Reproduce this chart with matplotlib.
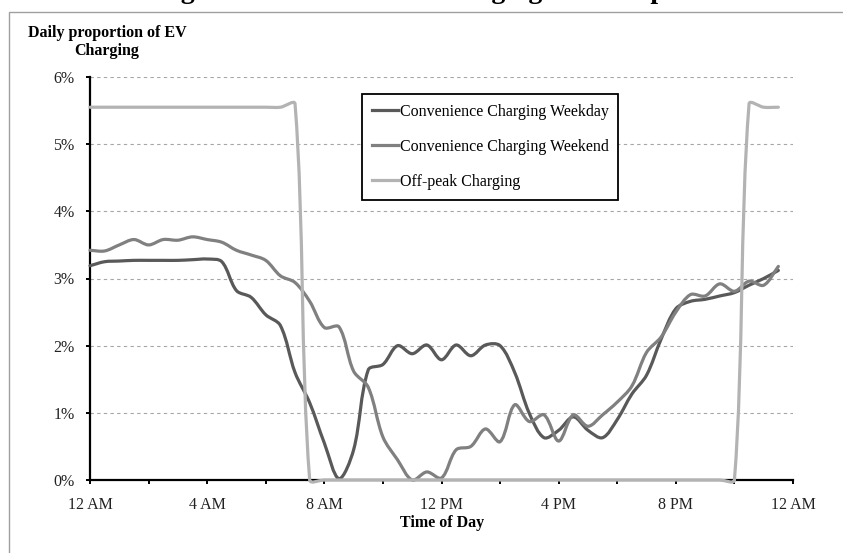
import numpy as np
import matplotlib
matplotlib.use('Agg')
import matplotlib.pyplot as plt
from matplotlib.path import Path
from matplotlib.patches import PathPatch, Rectangle
from matplotlib.lines import Line2D

plt.rcParams['font.family'] = ['Liberation Serif', 'DejaVu Serif']

# === 데이터: 30분 간격 (0:00 ~ 23:30), 단위 % ===
hours = np.arange(0, 24, 0.5)

weekday = [3.19, 3.25, 3.26, 3.27, 3.27, 3.27, 3.27, 3.28, 3.29, 3.25,
           2.82, 2.72, 2.46, 2.30, 1.60, 1.15, 0.55, 0.02, 0.45, 1.64,
           1.72, 2.00, 1.88, 2.01, 1.79, 2.01, 1.85, 2.01, 2.00, 1.60,
           0.99, 0.63, 0.74, 0.94, 0.74, 0.63, 0.90, 1.28, 1.56, 2.10,
           2.55, 2.66, 2.69, 2.74, 2.79, 2.90, 3.00, 3.12]

weekend = [3.42, 3.41, 3.50, 3.58, 3.50, 3.58, 3.57, 3.62, 3.58, 3.54,
           3.42, 3.35, 3.27, 3.04, 2.94, 2.66, 2.27, 2.28, 1.62, 1.38,
           0.64, 0.30, 0.00, 0.12, 0.03, 0.45, 0.50, 0.76, 0.57, 1.12,
           0.87, 0.97, 0.58, 0.97, 0.80, 0.97, 1.16, 1.40, 1.90, 2.13,
           2.50, 2.76, 2.74, 2.92, 2.81, 2.96, 2.90, 3.18]

offpeak = [5.55] * 14 + [5.60] + [0.0] * 30 + [5.60, 5.55, 5.55]

series_names = ['Convenience Charging Weekday',
                'Convenience Charging Weekend',
                'Off-peak Charging']
series_colors = ['#595959', '#808080', '#b3b3b3']

xtick_pos = [0, 4, 8, 12, 16, 20, 24]
xtick_labels = ['12 AM', '4 AM', '8 AM', '12 PM', '4 PM', '8 PM', '12 AM']
ytick_pos = [0, 1, 2, 3, 4, 5, 6]


def smooth_path(ax, xs, ys):
    # 엑셀 "곡선" 스타일: 픽셀 공간에서 구간 길이 비례 Catmull-Rom 베지어
    pts = ax.transData.transform(np.column_stack([xs, ys]))
    n = len(pts)
    d = np.hypot(*np.diff(pts, axis=0).T)
    tang = np.zeros_like(pts)
    for i in range(n):
        a = pts[max(i - 1, 0)]
        b = pts[min(i + 1, n - 1)]
        da = d[i - 1] if i > 0 else 0.0
        db = d[i] if i < n - 1 else 0.0
        tang[i] = (b - a) / (da + db)
    verts = [pts[0]]
    codes = [Path.MOVETO]
    for i in range(n - 1):
        verts += [pts[i] + tang[i] * d[i] / 3,
                  pts[i + 1] - tang[i + 1] * d[i] / 3,
                  pts[i + 1]]
        codes += [Path.CURVE4] * 3
    verts = ax.transData.inverted().transform(np.array(verts))
    return Path(verts, codes)


def main():
    W, H = 843, 553
    fig = plt.figure(figsize=(W / 100, H / 100), dpi=100)
    ax = fig.add_axes([90 / W, 1 - 480 / H, (793 - 90) / W, (480 - 77) / H])

    ax.set_xlim(0, 24)
    ax.set_ylim(0, 6)

    handles = []
    for ys, name, c in zip([weekday, weekend, offpeak], series_names, series_colors):
        path = smooth_path(ax, hours, ys)
        ax.add_patch(PathPatch(path, facecolor='none', edgecolor=c, lw=2.3,
                               zorder=4, clip_on=False, capstyle='round',
                               joinstyle='round'))
        handles.append(Line2D([], [], color=c, lw=2.3, label=name))

    # 축 / 눈금
    for s in ['top', 'right']:
        ax.spines[s].set_visible(False)
    for s in ['left', 'bottom']:
        ax.spines[s].set_linewidth(1.6)
        ax.spines[s].set_color('black')

    ax.set_xticks(xtick_pos)
    ax.set_xticklabels(xtick_labels)
    ax.set_xticks([2, 6, 10, 14, 18, 22], minor=True)
    ax.set_yticks(ytick_pos)
    ax.set_yticklabels([f'{v}%' for v in ytick_pos])
    ax.tick_params(axis='both', which='both', direction='out', length=3,
                   width=1.4, color='black', labelsize=11.5, labelcolor='#222222')
    ax.tick_params(axis='x', pad=9)
    ax.tick_params(axis='y', pad=8)

    ax.yaxis.grid(True, linestyle=(0, (3, 3)), color='#a6a6a6', lw=0.8)
    ax.set_axisbelow(True)

    leg = ax.legend(handles=handles, loc='upper left',
                    bbox_to_anchor=((362 - 90) / 703, (480 - 94) / 403),
                    borderaxespad=0, fontsize=11.5, handlelength=1.65,
                    handletextpad=0.1, labelspacing=1.2, borderpad=0.6,
                    fancybox=False, framealpha=1, edgecolor='black')
    leg.get_frame().set_linewidth(1.3)

    # 축 제목
    fig.text(107 / W, 1 - 42 / H, 'Daily proportion of EV\nCharging',
             ha='center', va='center', fontsize=11.5, fontweight='bold',
             multialignment='center', linespacing=1.15)
    fig.text(442 / W, 1 - 523 / H, 'Time of Day', ha='center', va='center',
             fontsize=11.5, fontweight='bold')

    # 차트 영역 테두리 (오른쪽/아래는 잘림)
    fig.add_artist(Rectangle((9 / W, -0.05), 1.5, 1 - 12 / H + 0.05,
                             transform=fig.transFigure, fill=False,
                             edgecolor='#a0a0a0', lw=1))

    # 위쪽이 잘린 제목
    fig.text(156 / W, 1 + 1.5 / H,
             'Figure 5: Convenience Charging and Off-peak Profiles',
             ha='left', va='baseline', fontsize=20, fontweight='bold')

    fig.savefig('out.png', dpi=100)


if __name__ == '__main__':
    main()
